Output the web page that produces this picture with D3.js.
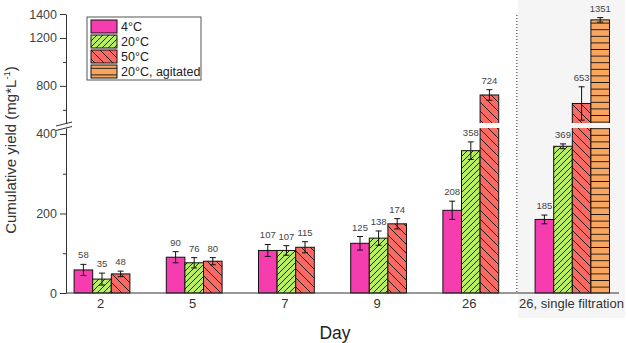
<!DOCTYPE html>
<html>
<head>
<meta charset="utf-8">
<script src="https://cdn.jsdelivr.net/npm/d3@7"></script>
<style>
  body { margin: 0; background: #fff; }
  text { font-family: "Liberation Sans", Arial, sans-serif; }
</style>
</head>
<body>
<svg width="627" height="343"></svg>
<script>
// data
const days = ["2", "5", "7", "9", "26", "26, single filtration"];
const series = ["4°C", "20°C", "50°C", "20°C, agitated"];
const yield4 = [58, 90, 107, 125, 208, 185];
const yield20 = [35, 76, 107, 138, 358, 369];
const yield50 = [48, 80, 115, 174, 724, 653];
const yieldAgit = [null, null, null, null, null, 1351];
const err4 = [14, 14, 15, 17, 23, 11];
const err20 = [15, 13, 12, 18, 22, 6];
const err50 = [7, 9, 14, 13, 44, 139];
const errAgit = [null, null, null, null, null, 19];
const lowTicks = [0, 200, 400], lowMinor = [100, 300];
const upTicks = [800, 1200, 1400], upMinor = [600, 1000];

const colors = ["#f63db0", "#b8ee5f", "#f96a63", "#f8a55f"];
const fills = ["#f63db0", "url(#hatchFwd)", "url(#hatchBack)", "url(#hatchHor)"];
const values = [yield4, yield20, yield50, yieldAgit];
const errors = [err4, err20, err50, errAgit];

const svg = d3.select("svg"),
    width = +svg.attr("width"),
    height = +svg.attr("height");

const axisX = 66, baseY = 293;
const bw = 18.6;

const x = d3.scalePoint().domain(days).range([102, 563]);
// broken y axis: two segments
const yLow = d3.scaleLinear().domain([0, 415]).range([baseY, 128]);
const yUp = d3.scaleLinear().domain([490, 1400]).range([123, 14]);
const brk = 450;

const defs = svg.append("defs");
function hatch(id, color, size, path) {
  const p = defs.append("pattern").attr("id", id)
    .attr("patternUnits", "userSpaceOnUse").attr("width", size).attr("height", size);
  p.append("rect").attr("width", size).attr("height", size).attr("fill", color);
  p.append("path").attr("d", path).attr("stroke", "#111").attr("stroke-width", 0.9).attr("fill", "none");
}
hatch("hatchFwd", colors[1], 6, "M-1,1 l2,-2 M0,6 l6,-6 M5,7 l2,-2");
hatch("hatchBack", colors[2], 9, "M-1,-1 l2,2 M0,0 l9,9 M8,8 l2,2");
hatch("hatchHor", colors[3], 6.6, "M0,3.3 h6.6");

defs.append("clipPath").attr("id", "clipLow").append("rect")
  .attr("x", 0).attr("y", yLow.range()[1]).attr("width", width).attr("height", baseY - yLow.range()[1] + 2);
defs.append("clipPath").attr("id", "clipUp").append("rect")
  .attr("x", 0).attr("y", 0).attr("width", width).attr("height", yUp.range()[0]);

// shaded panel for the single filtration group
const divX = (x(days[4]) + 1.5 * bw + x(days[5]) - 1.5 * bw) / 2;
svg.append("rect").attr("x", divX + 1).attr("y", 0).attr("width", 625 - divX - 1).attr("height", 318)
  .attr("fill", "#f5f5f5");
svg.append("line").attr("x1", divX).attr("x2", divX).attr("y1", 15).attr("y2", baseY)
  .attr("stroke", "#222").attr("stroke-dasharray", "1,2");

// bars
const bars = [];
values.forEach((vals, s) => {
  vals.forEach((v, i) => {
    if (v == null) return;
    bars.push({ s, day: days[i], v, e: errors[s][i], x: x(days[i]) + (s - 1.5) * bw });
  });
});

const low = svg.append("g").attr("clip-path", "url(#clipLow)");
low.selectAll("rect").data(bars).join("rect")
  .attr("x", d => d.x).attr("width", bw)
  .attr("y", d => yLow(Math.min(d.v, 430)))
  .attr("height", d => baseY - yLow(Math.min(d.v, 430)))
  .attr("fill", d => fills[d.s]).attr("stroke", "#111").attr("stroke-width", 1);

const up = svg.append("g").attr("clip-path", "url(#clipUp)");
up.selectAll("rect").data(bars.filter(d => d.v > brk)).join("rect")
  .attr("x", d => d.x).attr("width", bw)
  .attr("y", d => yUp(d.v))
  .attr("height", d => yUp(480) - yUp(d.v))
  .attr("fill", d => fills[d.s]).attr("stroke", "#111").attr("stroke-width", 1);

// error bars and value labels
const yOf = v => v > brk ? yUp(v) : yLow(v);
const eb = svg.append("g").attr("stroke", "#111").attr("stroke-width", 1);
bars.forEach(d => {
  const cx = d.x + bw / 2, t = yOf(d.v + d.e), b = yOf(d.v - d.e);
  eb.append("line").attr("x1", cx).attr("x2", cx).attr("y1", t).attr("y2", b);
  eb.append("line").attr("x1", cx - 3).attr("x2", cx + 3).attr("y1", t).attr("y2", t);
  eb.append("line").attr("x1", cx - 3).attr("x2", cx + 3).attr("y1", b).attr("y2", b);
});
svg.append("g").selectAll("text").data(bars).join("text")
  .attr("x", d => d.x + bw / 2).attr("y", d => yOf(d.v + d.e) - 6)
  .attr("text-anchor", "middle").attr("font-size", 9.5).attr("fill", "#444")
  .text(d => d.v);

// y axis, two segments
function yAxis(scale, major, minor) {
  const g = svg.append("g").attr("transform", `translate(${axisX},0)`);
  g.call(d3.axisLeft(scale).tickValues(major).tickFormat(d3.format("d"))
    .tickSize(6).tickSizeOuter(0).tickPadding(3));
  g.append("g").call(d3.axisLeft(scale).tickValues(minor).tickSize(3).tickFormat(""))
    .select(".domain").remove();
  g.selectAll("path, line").attr("stroke", "#333");
  g.selectAll("text").attr("font-size", 12.5).attr("fill", "#444")
    .attr("font-family", "Liberation Sans, Arial, sans-serif");
}
yAxis(yLow, lowTicks, lowMinor);
yAxis(yUp, upTicks, upMinor);

// break marks
const bm = svg.append("g").attr("stroke", "#333").attr("stroke-width", 1);
bm.append("line").attr("x1", axisX - 10).attr("y1", 126).attr("x2", axisX + 6).attr("y2", 122);
bm.append("line").attr("x1", axisX - 10).attr("y1", 130.5).attr("x2", axisX + 6).attr("y2", 126.5);

// x axis
svg.append("line").attr("x1", axisX).attr("x2", 619).attr("y1", baseY).attr("y2", baseY)
  .attr("stroke", "#333");
const xg = svg.append("g").attr("transform", `translate(0,${baseY})`)
  .call(d3.axisBottom(x).tickSize(0).tickPadding(6));
xg.select(".domain").remove();
xg.selectAll("text").attr("font-size", 13).attr("fill", "#333")
  .attr("font-family", "Liberation Sans, Arial, sans-serif")
  .attr("dx", (d, i) => i === days.length - 1 ? 8 : -2);

// titles
svg.append("text").attr("x", 335).attr("y", 339).attr("text-anchor", "middle")
  .attr("font-size", 17.5).attr("fill", "#222").text("Day");
const yt = svg.append("text").attr("transform", "translate(16,150) rotate(-90)")
  .attr("text-anchor", "middle").attr("font-size", 15).attr("fill", "#333");
yt.append("tspan").text("Cumulative yield (mg*L");
yt.append("tspan").attr("font-size", 9.5).attr("dy", -6).text("-1");
yt.append("tspan").attr("dy", 6).text(")");

// legend
const lg = svg.append("g").attr("transform", "translate(87,17)");
lg.append("rect").attr("width", 114).attr("height", 63).attr("fill", "#fff")
  .attr("stroke", "#555").attr("stroke-width", 1);
const item = lg.selectAll("g.item").data(series).join("g").attr("class", "item")
  .attr("transform", (d, i) => `translate(4,${3 + i * 15})`);
item.append("rect").attr("width", 26).attr("height", 13)
  .attr("fill", (d, i) => fills[i]).attr("stroke", "#111");
item.append("text").attr("x", 30).attr("y", 11).attr("font-size", 12.5).attr("fill", "#222")
  .text(d => d);
</script>
</body>
</html>
